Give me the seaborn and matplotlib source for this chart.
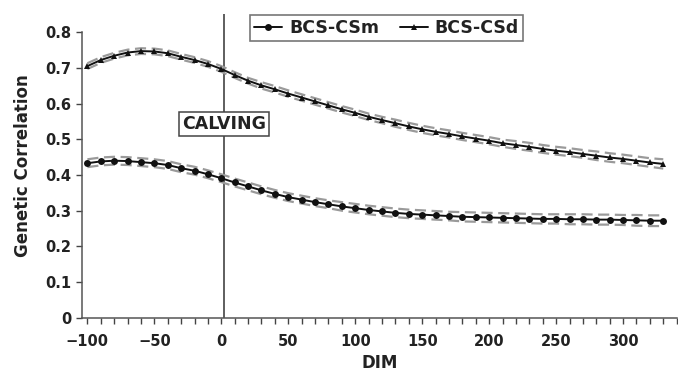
import numpy as np
import pandas as pd
import matplotlib
matplotlib.use("Agg")
import matplotlib.pyplot as plt
import seaborn as sns
from matplotlib.ticker import MultipleLocator

dim = list(range(-100, 331, 10))

bcs_csm = [0.433, 0.438, 0.440, 0.439, 0.436, 0.433, 0.428, 0.419, 0.412, 0.402,
           0.391, 0.379, 0.368, 0.357, 0.347, 0.338, 0.331, 0.324, 0.318, 0.312,
           0.307, 0.302, 0.298, 0.294, 0.291, 0.289, 0.287, 0.285, 0.283, 0.282,
           0.281, 0.280, 0.279, 0.278, 0.277, 0.277, 0.276, 0.276, 0.275, 0.275,
           0.274, 0.273, 0.272, 0.272]
bcs_csd = [0.705, 0.722, 0.734, 0.743, 0.747, 0.746, 0.741, 0.731, 0.722, 0.711,
           0.697, 0.680, 0.664, 0.651, 0.640, 0.628, 0.617, 0.606, 0.595, 0.584,
           0.574, 0.563, 0.554, 0.545, 0.536, 0.528, 0.521, 0.515, 0.508, 0.502,
           0.496, 0.489, 0.484, 0.479, 0.473, 0.468, 0.464, 0.459, 0.454, 0.449,
           0.445, 0.440, 0.435, 0.431]
se_csm = [0.011, 0.011, 0.011, 0.011, 0.011, 0.011, 0.011, 0.011, 0.011, 0.011,
          0.011, 0.011, 0.011, 0.011, 0.011, 0.011, 0.011, 0.011, 0.011, 0.012,
          0.012, 0.012, 0.012, 0.012, 0.012, 0.012, 0.012, 0.012, 0.013, 0.013,
          0.013, 0.013, 0.013, 0.013, 0.013, 0.013, 0.014, 0.014, 0.014, 0.014,
          0.014, 0.015, 0.015, 0.015]
se_csd = [0.008, 0.008, 0.008, 0.008, 0.008, 0.008, 0.008, 0.008, 0.008, 0.008,
          0.008, 0.008, 0.008, 0.009, 0.009, 0.009, 0.009, 0.009, 0.009, 0.009,
          0.009, 0.009, 0.009, 0.010, 0.010, 0.010, 0.010, 0.010, 0.010, 0.010,
          0.010, 0.010, 0.011, 0.011, 0.011, 0.011, 0.011, 0.011, 0.012, 0.012,
          0.012, 0.012, 0.012, 0.013]

series_names = ["BCS-CSm", "BCS-CSd"]
calving_day = 2
y_ticks = [0, 0.1, 0.2, 0.3, 0.4, 0.5, 0.6, 0.7, 0.8]
y_tick_labels = ["0", "0.1", "0.2", "0.3", "0.4", "0.5", "0.6", "0.7", "0.8"]
x_ticks = [-100, -50, 0, 50, 100, 150, 200, 250, 300]
x_tick_labels = ["\u2212100", "\u221250", "0", "50", "100", "150", "200", "250", "300"]

df = pd.DataFrame({
    "DIM": dim * 2,
    "r": bcs_csm + bcs_csd,
    "se": se_csm + se_csd,
    "trait": [series_names[0]] * len(dim) + [series_names[1]] * len(dim),
})
df["lo"] = df["r"] - df["se"]
df["hi"] = df["r"] + df["se"]

sns.set_theme(style="ticks")
plt.rcParams["font.family"] = ["DejaVu Sans"]
plt.rcParams["font.weight"] = "bold"

fig = plt.figure(figsize=(6.78, 3.77), dpi=100)
ax = fig.add_axes([0.121, 0.157, 0.877, 0.805])

# confidence bands (dashed gray)
for name in series_names:
    sub = df[df["trait"] == name]
    for col in ["lo", "hi"]:
        sns.lineplot(data=sub, x="DIM", y=col, ax=ax, color="#9a9a9a",
                     linewidth=1.6, linestyle=(0, (5, 2.5)), legend=False,
                     zorder=2)

sns.lineplot(data=df, x="DIM", y="r", hue="trait", style="trait",
             markers={"BCS-CSm": "o", "BCS-CSd": "^"}, dashes=False,
             palette={"BCS-CSm": "#111111", "BCS-CSd": "#111111"},
             markersize=5, markeredgewidth=0, linewidth=1.4, ax=ax, zorder=3)

ax.axvline(calving_day, color="#333333", linewidth=1.1, zorder=1)
ax.text(calving_day, 0.543, "CALVING", ha="center", va="center",
        fontsize=12.5, fontweight="bold", color="#222222", zorder=5,
        bbox=dict(boxstyle="square,pad=0.18", facecolor="white",
                  edgecolor="#444444", linewidth=1.1))

ax.set_xlim(-104, 340)
ax.set_ylim(0, 0.85)
ax.set_xticks(x_ticks)
ax.set_xticklabels(x_tick_labels)
ax.xaxis.set_minor_locator(MultipleLocator(10))
ax.set_yticks(y_ticks)
ax.set_yticklabels(y_tick_labels)
ax.tick_params(axis="both", which="both", direction="out", length=4.5,
               width=1, color="#444444", labelsize=10.5,
               labelcolor="#222222")
ax.tick_params(axis="x", which="both", pad=7)
ax.tick_params(axis="y", which="both", pad=3)
for lab in ax.get_xticklabels() + ax.get_yticklabels():
    lab.set_fontweight("bold")

sns.despine(ax=ax, top=True, right=True)
ax.spines["left"].set_bounds(0, 0.8)
for s in ["left", "bottom"]:
    ax.spines[s].set_color("#555555")
    ax.spines[s].set_linewidth(1.1)

ax.set_xlabel("DIM", fontsize=12, fontweight="bold", color="#222222", labelpad=4)
ax.set_ylabel("Genetic Correlation", fontsize=12, fontweight="bold",
              color="#222222", labelpad=10)

handles, labels = ax.get_legend_handles_labels()
leg = ax.legend(handles, labels, ncol=2, loc="upper center",
                bbox_to_anchor=(0.512, 1.027), frameon=True, fancybox=False,
                edgecolor="#555555", fontsize=12.5, handlelength=1.6,
                handletextpad=0.4, columnspacing=1.2, borderpad=0.25)
leg.get_frame().set_linewidth(1.2)
for t in leg.get_texts():
    t.set_fontweight("bold")
    t.set_color("#222222")

fig.savefig("out.png", dpi=100)
